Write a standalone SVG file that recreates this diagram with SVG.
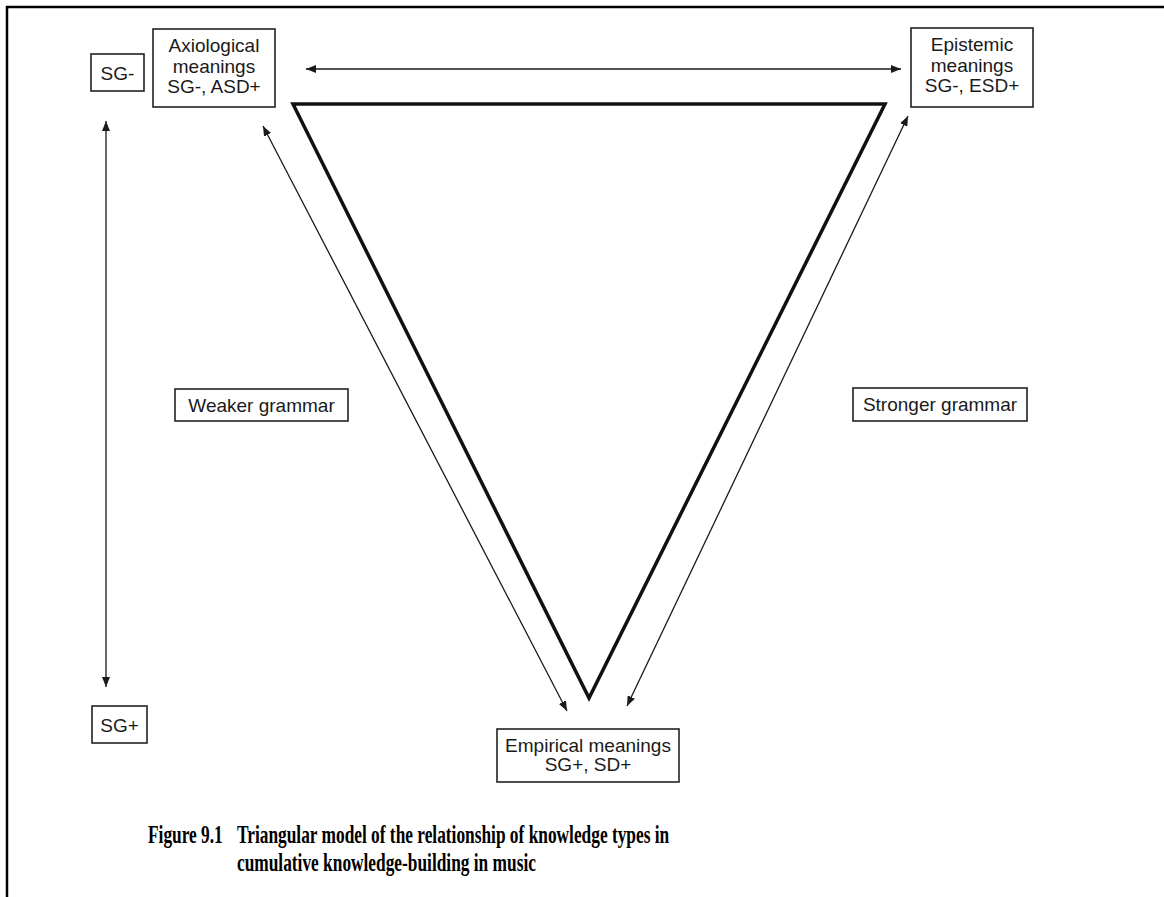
<svg xmlns="http://www.w3.org/2000/svg" width="1164" height="897" viewBox="0 0 1164 897">
<defs>
<marker id="ah" viewBox="0 0 10 8" refX="10" refY="4" markerWidth="10" markerHeight="8" markerUnits="userSpaceOnUse" orient="auto-start-reverse">
<path d="M0,0 L10,4 L0,8 Z" fill="#1a1a1a"/>
</marker>
<style>
.box{fill:#fff;stroke:#222;stroke-width:1.6}
.t{font-family:"Liberation Sans",Arial,sans-serif;font-size:19px;fill:#1a1a1a;text-anchor:middle}
.c{stroke:#1a1a1a;stroke-width:1.3;fill:none}
.cap{font-family:"Liberation Serif","Times New Roman",serif;font-weight:bold;font-size:26px;fill:#000}
</style>
</defs>
<rect width="1164" height="897" fill="#fff"/>
<g id="frame">
<line x1="6" y1="7" x2="1164" y2="7" stroke="#000" stroke-width="2.5"/>
<line x1="7" y1="6" x2="7" y2="897" stroke="#000" stroke-width="2.5"/>
</g>
<g id="triangle">
<polygon points="293,104 885,104 589,698" fill="none" stroke="#111" stroke-width="3.5" stroke-linejoin="miter"/>
</g>
<g id="connectors">
<line class="c" x1="306" y1="69" x2="901" y2="69" marker-start="url(#ah)" marker-end="url(#ah)"/>
<line class="c" x1="106" y1="121" x2="106" y2="687" marker-start="url(#ah)" marker-end="url(#ah)"/>
<line class="c" x1="263" y1="126" x2="567" y2="711" marker-start="url(#ah)" marker-end="url(#ah)"/>
<line class="c" x1="908" y1="116" x2="627" y2="706" marker-start="url(#ah)" marker-end="url(#ah)"/>
</g>
<g id="sg-minus">
<rect class="box" x="91" y="54" width="53" height="37"/>
<text class="t" x="117.5" y="80">SG-</text>
</g>
<g id="sg-plus">
<rect class="box" x="92" y="706" width="55" height="37"/>
<text class="t" x="119.5" y="732">SG+</text>
</g>
<g id="axiological">
<rect class="box" x="153" y="29" width="122" height="78"/>
<text class="t" x="214" y="52">Axiological</text>
<text class="t" x="214" y="73">meanings</text>
<text class="t" x="214" y="93">SG-, ASD+</text>
</g>
<g id="epistemic">
<rect class="box" x="911" y="28" width="122" height="79"/>
<text class="t" x="972" y="51">Epistemic</text>
<text class="t" x="972" y="72">meanings</text>
<text class="t" x="972" y="92">SG-, ESD+</text>
</g>
<g id="empirical">
<rect class="box" x="497" y="729" width="182" height="53"/>
<text class="t" x="588" y="752">Empirical meanings</text>
<text class="t" x="588" y="771">SG+, SD+</text>
</g>
<g id="weaker">
<rect class="box" x="175" y="389" width="173" height="32"/>
<text class="t" x="261.5" y="412">Weaker grammar</text>
</g>
<g id="stronger">
<rect class="box" x="853" y="388" width="174" height="33"/>
<text class="t" x="940" y="411">Stronger grammar</text>
</g>
<g id="caption" transform="scale(0.667,1)">
<text class="cap" x="221.9" y="843">Figure 9.1</text>
<text class="cap" x="355.3" y="843">Triangular model of the relationship of knowledge types in</text>
<text class="cap" x="355.3" y="871">cumulative knowledge-building in music</text>
</g>
</svg>
